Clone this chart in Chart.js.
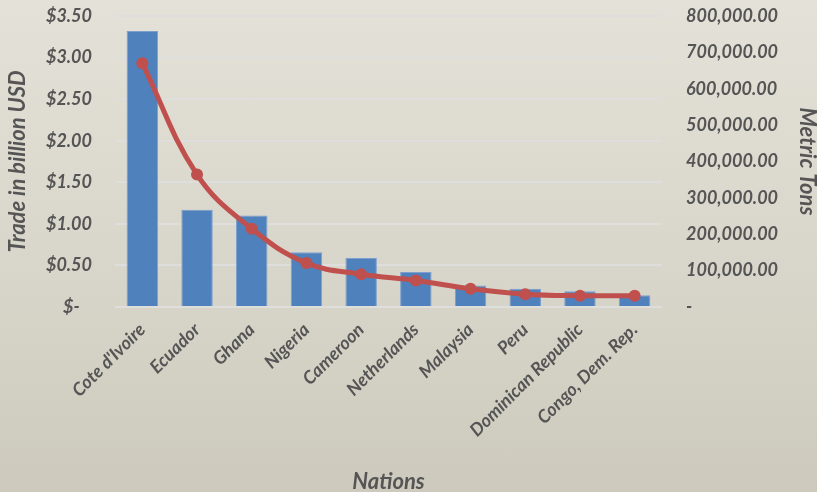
<!DOCTYPE html>
<html>
<head>
<meta charset="utf-8">
<script src="https://cdn.jsdelivr.net/npm/chart.js@4/dist/chart.umd.min.js"></script>
<style>
  html, body { margin: 0; padding: 0; }
  body { width: 817px; height: 492px; overflow: hidden;
         background: linear-gradient(to bottom, #E4E2D8 0%, #D8D5CA 55%, #CDCABD 100%); }
  #wrap { position: relative; width: 817px; height: 492px; }
</style>
</head>
<body>
<div id="wrap"><canvas id="chart" width="817" height="492"></canvas></div>
<script>
// Cocoa trade by exporting nation
const nations = ["Cote d'Ivoire", "Ecuador", "Ghana", "Nigeria", "Cameroon",
                 "Netherlands", "Malaysia", "Peru", "Dominican Republic", "Congo, Dem. Rep."];
const tradeBillionUSD = [3.32, 1.17, 1.10, 0.66, 0.59, 0.42, 0.26, 0.22, 0.19, 0.14];
const metricTons = [670000, 364000, 215000, 121000, 90000, 73000, 50000, 35000, 31000, 31000];

const usdTicks = [0, 0.5, 1, 1.5, 2, 2.5, 3, 3.5];
const tonTicks = [0, 100000, 200000, 300000, 400000, 500000, 600000, 700000, 800000];

const textGray = '#555555';
const fam = 'Lato, "Open Sans", sans-serif';

Chart.defaults.font.family = fam;
Chart.defaults.color = textGray;

const tickFont = { size: 18, weight: 'bold', style: 'italic' };
const titleFont = { size: 22, weight: 'bold', style: 'italic' };

new Chart(document.getElementById('chart'), {
  data: {
    labels: nations,
    datasets: [
      {
        type: 'line',
        label: 'Metric Tons',
        data: metricTons,
        yAxisID: 'yTons',
        borderColor: '#C0504D',
        backgroundColor: '#C0504D',
        borderWidth: 5,
        pointRadius: 6,
        pointBorderWidth: 0,
        tension: 0.4,
        order: 1
      },
      {
        type: 'bar',
        label: 'Trade in billion USD',
        data: tradeBillionUSD,
        yAxisID: 'yUsd',
        backgroundColor: '#4F81BD',
        borderColor: '#7C9FCD',
        borderWidth: 1,
        barPercentage: 0.575,
        categoryPercentage: 1.0,
        order: 2
      }
    ]
  },
  options: {
    responsive: false,
    animation: false,
    layout: { padding: { top: 16, left: 0, right: 0, bottom: 0 } },
    plugins: { legend: { display: false }, tooltip: { enabled: false } },
    scales: {
      x: {
        grid: { display: false },
        border: { display: false },
        ticks: { minRotation: 45, maxRotation: 45, padding: 4, font: tickFont },
        title: {
          display: true, text: 'Nations', font: titleFont,
          padding: { top: -3, bottom: -3 }
        },
        afterFit(scale) { scale.height = 185; }
      },
      yUsd: {
        position: 'left',
        min: 0, max: 3.5,
        afterBuildTicks(scale) { scale.ticks = usdTicks.map(v => ({ value: v })); },
        grid: { color: '#DEDEDC', lineWidth: 2, drawTicks: true, tickLength: 23, tickColor: 'rgba(0,0,0,0)' },
        border: { display: false },
        ticks: {
          padding: 0, font: tickFont,
          callback: v => v === 0 ? '$-\u2002 ' : '$' + v.toFixed(2)
        },
        title: {
          display: true, text: 'Trade in billion USD', font: titleFont,
          padding: { top: 5, bottom: 5 }
        },
        afterFit(scale) { scale.width = 115; }
      },
      yTons: {
        position: 'right',
        min: 0, max: 800000,
        afterBuildTicks(scale) { scale.ticks = tonTicks.map(v => ({ value: v })); },
        grid: { display: true, drawOnChartArea: false, color: 'rgba(0,0,0,0)', drawTicks: true, tickLength: 24, tickColor: 'rgba(0,0,0,0)' },
        border: { display: false },
        ticks: {
          padding: 0, font: tickFont,
          callback: v => v === 0 ? '-' : v.toLocaleString('en-US', { minimumFractionDigits: 2, maximumFractionDigits: 2 })
        },
        title: {
          display: true, text: 'Metric Tons', font: titleFont,
          padding: { top: -3, bottom: -3 }
        },
        afterFit(scale) { scale.width = 155; }
      }
    }
  }
});
</script>
</body>
</html>
